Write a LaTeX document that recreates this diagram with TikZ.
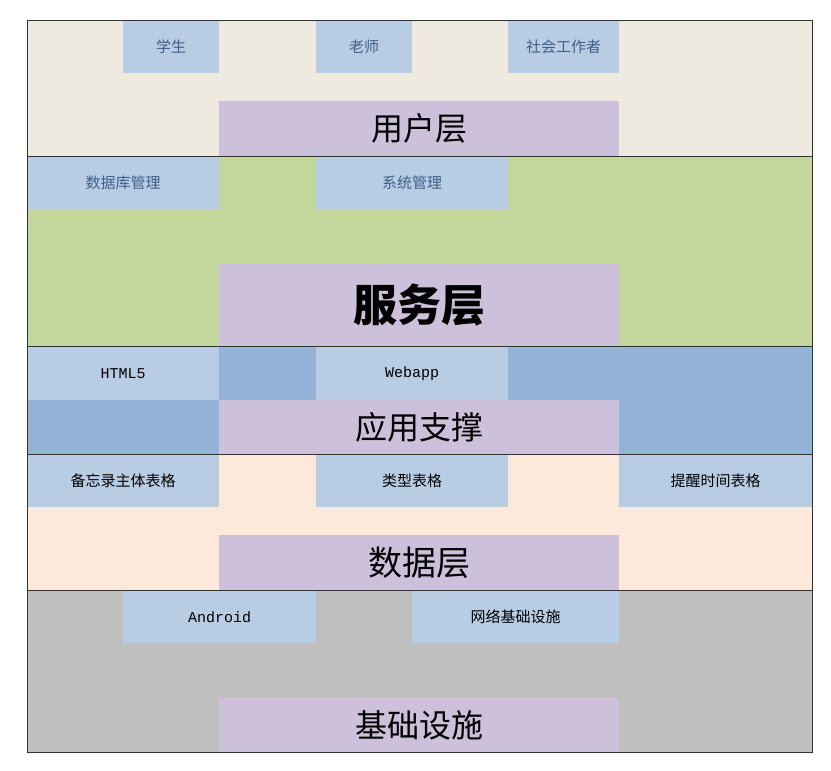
\documentclass[tikz,border=0pt]{standalone}
\usepackage{fontspec}
\newfontfamily\cjk{Noto Sans CJK SC}
\newfontfamily\mono{Liberation Mono}
\usetikzlibrary{positioning}

\definecolor{userbg}{HTML}{EEEAE0}
\definecolor{servbg}{HTML}{C3D69B}
\definecolor{appbg}{HTML}{95B3D7}
\definecolor{databg}{HTML}{FDE9D9}
\definecolor{infrabg}{HTML}{BFBFBF}
\definecolor{itemfill}{HTML}{B8CCE4}
\definecolor{titlefill}{HTML}{CCC0DA}
\definecolor{itemtext}{HTML}{3F5F8A}

\tikzset{
  itembox/.style={fill=itemfill, anchor=north west, inner sep=0pt,
    font=\cjk\fontsize{15}{18}\selectfont},
  titlebox/.style={fill=titlefill, anchor=north west, inner sep=0pt,
    minimum width=400pt},
}
% x0 y0 width height
\newcommand\layerbg[5]{\fill[#5] (#1,#2) rectangle ++(#3,#4);}

\begin{document}
\begin{tikzpicture}[x=1pt,y=-1pt]
  \useasboundingbox (0,0) rectangle (831,771);

  % backgrounds
  \layerbg{27}{20}{785}{136}{userbg}
  \layerbg{27}{156}{785}{190}{servbg}
  \layerbg{27}{346}{785}{108}{appbg}
  \layerbg{27}{454}{785}{136}{databg}
  \layerbg{27}{590}{785}{162}{infrabg}

  % user layer
  \node[itembox, text=itemtext, minimum width=96pt, minimum height=53pt] (student) at (123,20) {学生};
  \node[itembox, text=itemtext, minimum width=96pt, minimum height=53pt] (teacher) at (316,20) {老师};
  \node[itembox, text=itemtext, minimum width=111pt, minimum height=53pt] (worker) at (508,20) {社会工作者};
  \node[titlebox, minimum height=55pt, font=\cjk\fontsize{32}{36}\selectfont] (user) at (219,101) {用户层};

  % service layer
  \node[itembox, text=itemtext, minimum width=192pt, minimum height=53pt] (dbm) at (27,156) {数据库管理};
  \node[itembox, text=itemtext, minimum width=192pt, minimum height=53pt] (sysm) at (316,156) {系统管理};
  \node[titlebox, minimum height=82pt, font=\cjk\bfseries\fontsize{44}{48}\selectfont] (service) at (219,264) {服务层};

  % application support
  \node[itembox, minimum width=192pt, minimum height=54pt, font=\mono\fontsize{15}{18}\selectfont] (html) at (27,346) {HTML5};
  \node[itembox, minimum width=192pt, minimum height=54pt, font=\mono\fontsize{15}{18}\selectfont] (webapp) at (316,346) {Webapp};
  \node[titlebox, minimum height=54pt, font=\cjk\fontsize{32}{36}\selectfont] (app) at (219,400) {应用支撑};

  % data layer
  \node[itembox, minimum width=192pt, minimum height=53pt] (memo) at (27,454) {备忘录主体表格};
  \node[itembox, minimum width=192pt, minimum height=53pt] (type) at (316,454) {类型表格};
  \node[itembox, minimum width=193pt, minimum height=53pt] (remind) at (619,454) {提醒时间表格};
  \node[titlebox, minimum height=55pt, font=\cjk\fontsize{34}{38}\selectfont] (data) at (219,535) {数据层};

  % infrastructure
  \node[itembox, minimum width=193pt, minimum height=53pt, font=\mono\fontsize{15}{18}\selectfont] (android) at (123,590) {Android};
  \node[itembox, minimum width=207pt, minimum height=53pt] (network) at (412,590) {网络基础设施};
  \node[titlebox, minimum height=54pt, font=\cjk\fontsize{32}{36}\selectfont] (infra) at (219,698) {基础设施};

  % frame and separators
  \draw[black!80, line width=0.6pt] (27,20) rectangle (812,752);
  \foreach \y in {156,346,454,590}
    \draw[black!80, line width=0.6pt] (27,\y) -- (812,\y);
\end{tikzpicture}
\end{document}
